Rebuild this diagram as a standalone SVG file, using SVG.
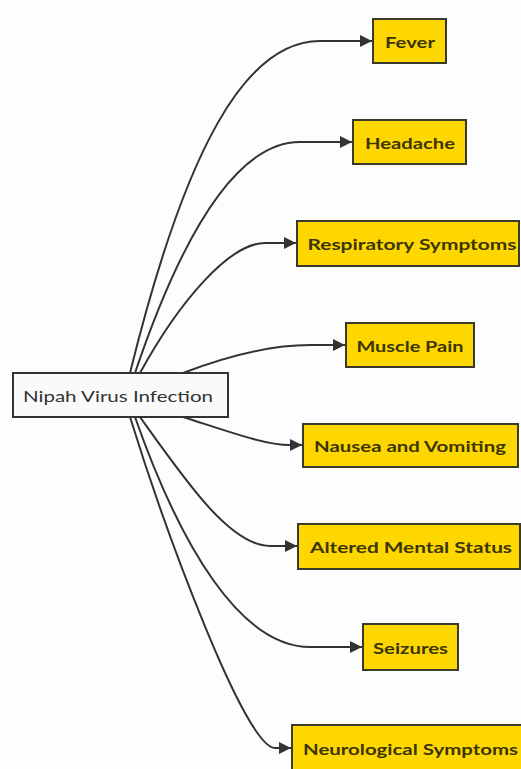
<svg xmlns="http://www.w3.org/2000/svg" width="521" height="769" viewBox="0 0 521 769">
<style>
.bg{fill:#fdfdfd}
.leaf rect{fill:#ffd700;stroke:#3a3a2a;stroke-width:2}
.root rect{fill:#fafafa;stroke:#333;stroke-width:2}
text{font-family:"Lato","Open Sans","Liberation Sans",sans-serif;font-size:16px;text-anchor:middle;dominant-baseline:central}
.leaf text{fill:#3b3500;font-weight:bold}
.root text{fill:#333;font-weight:normal}
.edges path{fill:none;stroke:#333;stroke-width:2}
</style>
<defs>
<marker id="arr" viewBox="0 0 10 10" refX="10" refY="5" markerWidth="6" markerHeight="6" markerUnits="strokeWidth" orient="auto">
<path d="M0,0 L10,5 L0,10 z" fill="#333"/>
</marker>
</defs>
<rect class="bg" x="0" y="0" width="521" height="769"/>
<g class="edges">
<path d="M130,373 C185,150 245,41 320,41 L372,41" marker-end="url(#arr)"/>
<path d="M135,373 C180,240 235,142 300,142 L352,142" marker-end="url(#arr)"/>
<path d="M140,373 C180,300 230,243 265,243 L296,243" marker-end="url(#arr)"/>
<path d="M183,373 C230,355 270,345 310,345 L345,345" marker-end="url(#arr)"/>
<path d="M183,417 C230,432 265,445 290,445 L302,445" marker-end="url(#arr)"/>
<path d="M140,417 C185,480 230,546 270,546 L297,546" marker-end="url(#arr)"/>
<path d="M135,417 C180,545 240,647 310,647 L362,647" marker-end="url(#arr)"/>
<path d="M130,417 C165,530 245,748 275,748 L291,748" marker-end="url(#arr)"/>
</g>
<g id="root" class="root"><rect x="13" y="373" width="215" height="44"/><text x="118" y="395" textLength="190" lengthAdjust="spacingAndGlyphs">Nipah Virus Infection</text></g>
<g id="fever" class="leaf"><rect x="373" y="19" width="73" height="44"/><text x="410" y="41" textLength="50" lengthAdjust="spacingAndGlyphs">Fever</text></g>
<g id="headache" class="leaf"><rect x="353" y="120" width="113" height="44"/><text x="410" y="142" textLength="90" lengthAdjust="spacingAndGlyphs">Headache</text></g>
<g id="respiratory" class="leaf"><rect x="297" y="221" width="222" height="45"/><text x="412" y="243.5" textLength="209" lengthAdjust="spacingAndGlyphs">Respiratory Symptoms</text></g>
<g id="muscle" class="leaf"><rect x="346" y="323" width="128" height="44"/><text x="410" y="345" textLength="107" lengthAdjust="spacingAndGlyphs">Muscle Pain</text></g>
<g id="nausea" class="leaf"><rect x="303" y="424" width="215" height="43"/><text x="410" y="445.5" textLength="192" lengthAdjust="spacingAndGlyphs">Nausea and Vomiting</text></g>
<g id="altered" class="leaf"><rect x="298" y="524" width="222" height="45"/><text x="411" y="546.5" textLength="202" lengthAdjust="spacingAndGlyphs">Altered Mental Status</text></g>
<g id="seizures" class="leaf"><rect x="363" y="624" width="95" height="46"/><text x="410.5" y="647" textLength="75" lengthAdjust="spacingAndGlyphs">Seizures</text></g>
<g id="neuro" class="leaf"><rect x="292" y="725" width="232" height="46"/><text x="410.5" y="748" textLength="215" lengthAdjust="spacingAndGlyphs">Neurological Symptoms</text></g>
</svg>
